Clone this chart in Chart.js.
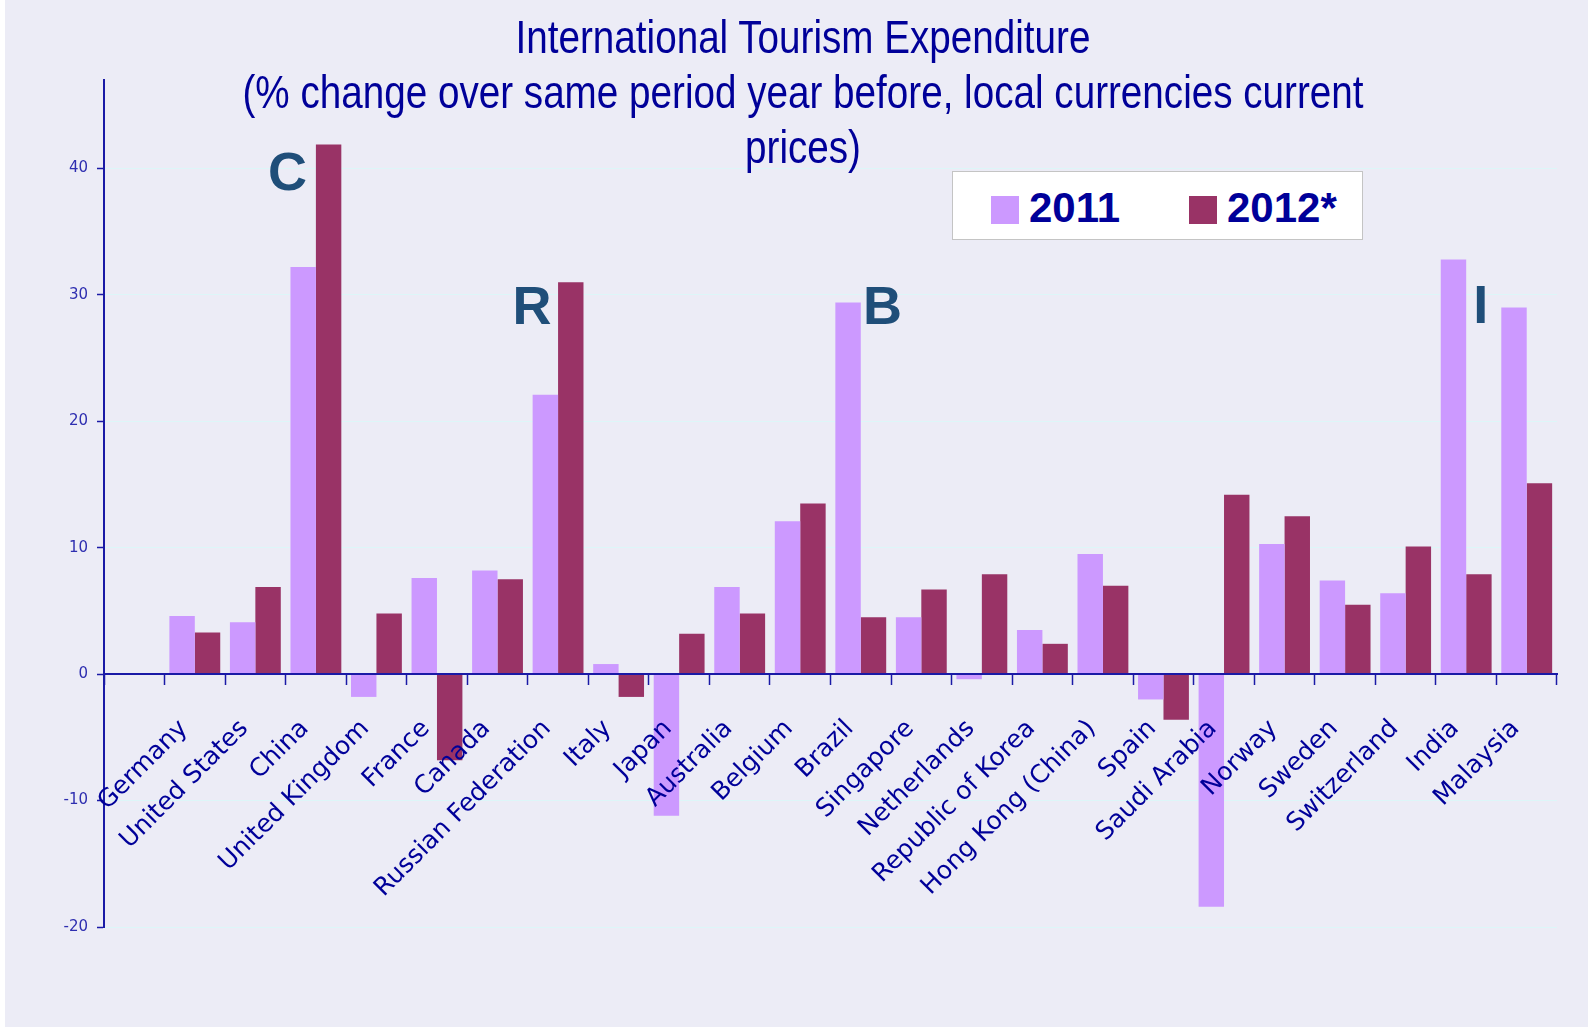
<!DOCTYPE html>
<html>
<head>
<meta charset="utf-8">
<script src="https://cdn.jsdelivr.net/npm/chart.js@4.4.0/dist/chart.umd.min.js"></script>
<style>
  body { margin: 0; background: #ffffff; overflow: hidden; }
  #fondo { position: absolute; left: 5px; top: 0; width: 1583px; height: 1027px; background: #ECECF6; }
  #contenedor { position: absolute; left: 0; top: 0; width: 1588px; height: 1027px; }
  #titulo {
    position: absolute; left: 803px; top: 10px;
    transform: translateX(-50%) scaleX(0.84);
    font-family: "Liberation Sans", Arial, sans-serif; font-size: 46px; line-height: 55px;
    color: #000099; text-align: center; white-space: nowrap;
  }
  #leyenda {
    position: absolute; left: 952px; top: 171px; width: 409px; height: 67px;
    background: #ffffff; border: 1px solid #c4c4c4;
  }
  .cuadro { position: absolute; top: 24px; width: 28px; height: 28px; }
  .texto {
    position: absolute; top: 15px; font-family: "Liberation Sans", Arial, sans-serif;
    font-weight: bold; font-size: 42px; line-height: 42px; color: #000099; white-space: nowrap;
  }
</style>
</head>
<body>
<div id="fondo"></div>
<div id="contenedor"><canvas id="Gasto"></canvas></div>
<div id="titulo">International Tourism Expenditure<br>(% change over same period year before, local currencies current<br>prices)</div>
<div id="leyenda"></div>

<script>
// Datos (el primer hueco del eje esta vacio)
const paises = ["", "Germany", "United States", "China", "United Kingdom", "France", "Canada",
  "Russian Federation", "Italy", "Japan", "Australia", "Belgium", "Brazil", "Singapore",
  "Netherlands", "Republic of Korea", "Hong Kong (China)", "Spain", "Saudi Arabia", "Norway",
  "Sweden", "Switzerland", "India", "Malaysia"];
const valores2011 = [null, 4.6, 4.1, 32.2, -1.8, 7.6, 8.2, 22.1, 0.8, -11.2, 6.9, 12.1, 29.4, 4.5,
  -0.4, 3.5, 9.5, -2.0, -18.4, 10.3, 7.4, 6.4, 32.8, 29.0];
const valores2012 = [null, 3.3, 6.9, 41.9, 4.8, -6.8, 7.5, 31.0, -1.8, 3.2, 4.8, 13.5, 4.5, 6.7,
  7.9, 2.4, 7.0, -3.6, 14.2, 12.5, 5.5, 10.1, 7.9, 15.1];
const series = ["2011", "2012*"];
const colores = ["#CC99FF", "#993366"];
const ticksY = [-20, -10, 0, 10, 20, 30, 40];

// Letras BRIC: pais, desplazamiento en categorias, valor en el eje y
const letras = [
  { texto: "C", pais: "China", desplazamiento: -0.47, valor: 38.3 },
  { texto: "R", pais: "Russian Federation", desplazamiento: -0.43, valor: 27.7 },
  { texto: "B", pais: "Brazil", desplazamiento: 0.36, valor: 27.7 },
  { texto: "I", pais: "India", desplazamiento: 0.24, valor: 27.8 },
];

const azulEje = "#1A1AA6";

// Leyenda en html
crearLeyenda();
function crearLeyenda() {
  let leyenda = document.getElementById("leyenda");
  let posiciones = [[38, 76], [236, 274]];
  series.forEach((nombre, i) => {
    let cuadro = document.createElement("span");
    cuadro.className = "cuadro";
    cuadro.style.left = posiciones[i][0] + "px";
    cuadro.style.background = colores[i];
    let texto = document.createElement("span");
    texto.className = "texto";
    texto.style.left = posiciones[i][1] + "px";
    texto.textContent = nombre;
    leyenda.appendChild(cuadro);
    leyenda.appendChild(texto);
  });
}

// Plugin para dibujar las letras sobre las barras
const pluginLetras = {
  id: "letras",
  afterDatasetsDraw(chart) {
    const ctx = chart.ctx;
    const x = chart.scales.x;
    const y = chart.scales.y;
    ctx.save();
    ctx.font = "bold 54px 'Liberation Sans', Arial, sans-serif";
    ctx.fillStyle = "#1F4E79";
    ctx.textAlign = "center";
    ctx.textBaseline = "alphabetic";
    letras.forEach((l) => {
      const indice = paises.indexOf(l.pais);
      ctx.fillText(l.texto, x.getPixelForValue(indice + l.desplazamiento), y.getPixelForValue(l.valor));
    });
    ctx.restore();
  },
};

crearGrafica();
function crearGrafica() {
  var ctx = document.getElementById("Gasto").getContext("2d");

  var chartConfig = {
    type: "bar",
    data: {
      labels: paises,
      datasets: [
        { label: series[0], data: valores2011, backgroundColor: colores[0] },
        { label: series[1], data: valores2012, backgroundColor: colores[1] },
      ],
    },
    options: {
      responsive: true,
      maintainAspectRatio: false,
      animation: false,
      categoryPercentage: 0.84,
      barPercentage: 1.0,
      layout: { padding: { left: 0, top: 80, right: 31, bottom: 100 } },
      plugins: {
        legend: { display: false },
        title: { display: false },
        tooltip: { enabled: false },
      },
      scales: {
        x: {
          position: { y: 0 },
          grid: {
            offset: true,
            drawOnChartArea: false,
            drawTicks: true,
            tickLength: 10,
            tickColor: azulEje,
            tickWidth: 1.5,
          },
          border: { display: true, color: azulEje, width: 2, z: 1 },
          ticks: {
            z: 1, // etiquetas encima de las barras
            autoSkip: false,
            minRotation: 45,
            maxRotation: 45,
            padding: 30,
            labelOffset: -11,
            color: "#000099",
            font: { family: "'DejaVu Sans', sans-serif", size: 25 },
          },
        },
        y: {
          min: ticksY[0],
          max: 47,
          afterBuildTicks: (scale) => {
            scale.ticks = ticksY.map((v) => ({ value: v }));
          },
          afterFit: (scale) => {
            scale.width = 104;
          },
          grid: {
            color: (c) => (c.tick && c.tick.value === 0 ? "rgba(0,0,0,0)" : "#DDF6F8"),
            tickColor: azulEje,
            tickLength: 7,
            tickWidth: 1.5,
          },
          border: { display: true, color: azulEje, width: 2 },
          ticks: {
            padding: 9,
            color: "#2E2EB0",
            font: { family: "'DejaVu Sans', sans-serif", size: 15 },
          },
        },
      },
    },
    plugins: [pluginLetras],
  };
  new Chart(ctx, chartConfig);
}
</script>
</body>
</html>
